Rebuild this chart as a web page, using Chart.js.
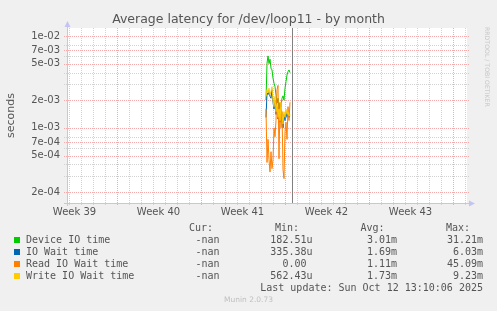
<!DOCTYPE html>
<html><head><meta charset="utf-8">
<script src="https://cdn.jsdelivr.net/npm/chart.js@4/dist/chart.umd.min.js"></script>
<style>
html,body{margin:0;padding:0;background:#f0f0f0;}
#wrap{position:relative;width:497px;height:311px;overflow:hidden;background:#f0f0f0;}
canvas{position:absolute;left:0;top:0;}
.t{position:absolute;font-family:"DejaVu Sans Mono",monospace;font-size:10px;line-height:12px;color:#555;white-space:pre;}
.sq{position:absolute;width:6px;height:6px;}
.r{text-align:right;}
#munin{position:absolute;left:0;width:497px;top:295px;text-align:center;font-family:"DejaVu Sans",sans-serif;font-size:7.5px;line-height:10px;color:#c0c0c0;}
#rrd{position:absolute;left:488px;top:27px;transform-origin:0 0;transform:rotate(90deg) translate(0,-3px);font-family:"DejaVu Sans",sans-serif;font-size:6.2px;line-height:7px;color:#c8c8c8;white-space:nowrap;}
</style></head><body>
<div id="wrap"><canvas id="c" width="497" height="311"></canvas>
<div id="rrd">RRDTOOL / TOBI OETIKER</div>
<div id="munin">Munin 2.0.73</div>
</div>
<script>
// ---- data (x axis in hours from the left edge of the month view) ----
const weekLabels = ['Week 39','Week 40','Week 41','Week 42','Week 43'];
const weekLabelHours = [15, 183, 351, 519, 687];
const X_MAX_HOURS = 800;
const SERIES_START_HOUR = 398;
const SERIES_STEP_HOURS = 2;
const NOW_HOUR = 449.4;

const yMajorTicks = [2e-4, 5e-4, 7e-4, 1e-3, 2e-3, 5e-3, 7e-3, 1e-2];
const yTickLabels = ['2e-04','5e-04','7e-04','1e-03','2e-03','5e-03','7e-03','1e-02'];
const yMinorTicks = [3e-4, 4e-4, 6e-4, 8e-4, 3e-3, 4e-3, 6e-3, 8e-3];
const Y_MIN = 1.52e-4, Y_MAX = 1.222e-2;

const seriesNames = ['Device IO time','IO Wait time','Read IO Wait time','Write IO Wait time'];
const seriesColors = ['#00cc00','#0066b3','#ff8000','#ffcc00'];
const deviceIO = [2.0e-3,5.05e-3,6.07e-3,5.0e-3,5.58e-3,4.46e-3,4.27e-3,3.47e-3,3.06e-3,2.81e-3,2.28e-3,1.86e-3,2.1e-3,1.57e-3,1.86e-3,1.68e-3,2.1e-3,2.23e-3,2.0e-3,2.7e-3,3.19e-3,3.77e-3,4.09e-3,4.27e-3,3.99e-3];
const ioWait = [1.3e-3,2.4e-3,2.3e-3,2.5e-3,2.2e-3,2.1e-3,2.6e-3,1.9e-3,1.6e-3,2.0e-3,1.4e-3,1.7e-3,1.25e-3,1.5e-3,1.15e-3,1.8e-3,1.3e-3,1.0e-3,1.4e-3,1.2e-3,1.5e-3,1.3e-3,1.45e-3,1.3e-3,1.35e-3];
const readIOWait = [1.6e-3,4.2e-4,7.5e-4,4.5e-4,3.3e-4,5.5e-4,3.6e-4,4.5e-4,1.0e-3,8.0e-4,1.2e-3,2.6e-3,2.9e-3,4.6e-4,1.9e-3,1.0e-3,1.5e-3,3.5e-4,2.8e-4,9.0e-4,1.15e-3,7.5e-4,1.7e-3,1.2e-3,1.9e-3];
const writeIOWait = [2.2e-3,2.6e-3,2.4e-3,2.7e-3,2.3e-3,2.5e-3,2.8e-3,2.0e-3,1.7e-3,2.2e-3,1.5e-3,1.8e-3,1.3e-3,1.6e-3,1.2e-3,1.9e-3,1.4e-3,1.1e-3,1.5e-3,1.3e-3,1.6e-3,1.4e-3,1.5e-3,1.35e-3,1.4e-3];

const curVals = ['-nan','-nan','-nan','-nan'];
const minVals = ['182.51u','335.38u','0.00 ','562.43u'];
const avgVals = ['3.01m','1.69m','1.11m','1.73m'];
const maxVals = ['31.21m','6.03m','45.09m','9.23m'];
const lastUpdate = 'Last update: Sun Oct 12 13:10:06 2025';

// ---- build ----
const allSeries = [deviceIO, ioWait, readIOWait, writeIOWait];
function toPoints(arr){ return arr.map((v,i)=>({x: SERIES_START_HOUR + i*SERIES_STEP_HOURS, y: v})); }

const MINOR_COL = '#d2d2d2', MAJOR_COL = '#f3abab';
const gridPlugin = {
  id: 'rrdgrid',
  beforeDraw(chart){
    const {ctx, chartArea: a, scales:{x, y}} = chart;
    ctx.save();
    ctx.fillStyle = '#f0f0f0'; ctx.fillRect(0,0,chart.width,chart.height);
    ctx.fillStyle = '#ffffff'; ctx.fillRect(a.left, a.top, a.right-a.left, a.bottom-a.top);
    ctx.lineWidth = 1;
    ctx.setLineDash([1,1]);
    for (let h = 3; h < X_MAX_HOURS; h += 24) {
      const px = Math.round(x.getPixelForValue(h)) + 0.5;
      const major = ((h - 99) % 168) === 0;
      ctx.strokeStyle = major ? MAJOR_COL : MINOR_COL;
      ctx.beginPath(); ctx.moveTo(px, a.top); ctx.lineTo(px, a.bottom + 3); ctx.stroke();
    }
    const hline = (v, col) => {
      const py = Math.round(y.getPixelForValue(v)) + 0.5;
      ctx.strokeStyle = col;
      ctx.beginPath(); ctx.moveTo(a.left - 3, py); ctx.lineTo(a.right + 2, py); ctx.stroke();
    };
    yMinorTicks.forEach(v => hline(v, MINOR_COL));
    yMajorTicks.forEach(v => hline(v, MAJOR_COL));
    ctx.setLineDash([]);
    ctx.strokeStyle = '#c4c4f4'; ctx.fillStyle = '#c4c4f4';
    const ax = Math.round(a.left) + 0.5, ay = Math.round(a.bottom) + 0.5;
    ctx.beginPath(); ctx.moveTo(ax, a.bottom + 3); ctx.lineTo(ax, a.top - 3); ctx.stroke();
    ctx.beginPath(); ctx.moveTo(ax - 3, a.top - 1); ctx.lineTo(ax + 3, a.top - 1); ctx.lineTo(ax, a.top - 7); ctx.closePath(); ctx.fill();
    ctx.beginPath(); ctx.moveTo(a.left - 3, ay); ctx.lineTo(a.right + 3, ay); ctx.stroke();
    ctx.beginPath(); ctx.moveTo(a.right + 2, ay - 3); ctx.lineTo(a.right + 2, ay + 3); ctx.lineTo(a.right + 8, ay); ctx.closePath(); ctx.fill();
    ctx.restore();
  },
  afterDatasetsDraw(chart){
    const {ctx, chartArea: a, scales:{x}} = chart;
    const px = Math.round(x.getPixelForValue(NOW_HOUR)) + 0.5;
    ctx.save();
    ctx.strokeStyle = '#808080'; ctx.lineWidth = 1;
    ctx.beginPath(); ctx.moveTo(px, a.top); ctx.lineTo(px, a.bottom); ctx.stroke();
    ctx.restore();
  }
};

new Chart(document.getElementById('c'), {
  type: 'line',
  data: {
    datasets: allSeries.map((arr, i) => ({
      label: seriesNames[i],
      data: toPoints(arr),
      borderColor: seriesColors[i],
      backgroundColor: seriesColors[i],
      borderWidth: 1,
      pointRadius: 0,
      tension: 0,
      fill: false,
      order: 4 - i
    }))
  },
  options: {
    responsive: false,
    animation: false,
    devicePixelRatio: 1,
    layout: { padding: { left: 0, right: 0, top: 0, bottom: 88 } },
    plugins: {
      legend: { display: false },
      tooltip: { enabled: false },
      title: {
        display: true,
        text: 'Average latency for /dev/loop11 - by month',
        color: '#555',
        font: { family: 'DejaVu Sans', size: 12.5, weight: 'normal', lineHeight: 1.2 },
        padding: { top: 12, bottom: 1 }
      }
    },
    scales: {
      x: {
        type: 'linear',
        bounds: 'data',
        min: 0, max: X_MAX_HOURS,
        grid: { display: false, drawTicks: false },
        border: { display: false },
        afterFit(s){ s.height = 20; },
        afterBuildTicks(s){ s.ticks = weekLabelHours.map(v => ({value: v})); },
        ticks: {
          autoSkip: false, maxRotation: 0, padding: 3, color: '#555',
          font: { family: 'DejaVu Sans', size: 10 },
          callback(v){ const i = weekLabelHours.indexOf(v); return i >= 0 ? weekLabels[i] : ''; }
        }
      },
      y: {
        type: 'logarithmic',
        position: 'left',
        bounds: 'data',
        min: Y_MIN, max: Y_MAX,
        grid: { display: false, drawTicks: false },
        border: { display: false },
        afterFit(s){ s.width = 67; },
        afterBuildTicks(s){ s.ticks = yMajorTicks.map(v => ({value: v})); },
        title: {
          display: true, text: 'seconds', color: '#555',
          font: { family: 'DejaVu Sans', size: 11 },
          padding: { top: 4.5, bottom: 0 }
        },
        ticks: {
          autoSkip: false, padding: 7, color: '#555',
          font: { family: 'DejaVu Sans', size: 10 },
          callback(v){ const i = yMajorTicks.indexOf(v); return i >= 0 ? yTickLabels[i] : ''; }
        }
      },
      yRightMargin: {
        type: 'linear',
        position: 'right',
        display: true,
        min: 0, max: 1,
        grid: { display: false, drawTicks: false },
        border: { display: false },
        ticks: { display: false },
        afterFit(s){ s.width = 30; }
      }
    }
  },
  plugins: [gridPlugin]
});

// ---- legend table (HTML text) ----
const wrap = document.getElementById('wrap');
function addText(txt, top, opts){
  const d = document.createElement('div');
  d.className = 't' + (opts.right !== undefined ? ' r' : '');
  d.textContent = txt;
  d.style.top = top + 'px';
  if (opts.left !== undefined) d.style.left = opts.left + 'px';
  if (opts.right !== undefined) d.style.right = (497 - opts.right) + 'px';
  wrap.appendChild(d);
}
const headTop = 222, rowTop = 234, rowStep = 12;
addText('Cur:', headTop, {right: 213});
addText('Min:', headTop, {right: 299});
addText('Avg:', headTop, {right: 384.5});
addText('Max:', headTop, {right: 470});
seriesNames.forEach((n, i) => {
  const top = rowTop + i*rowStep;
  const sq = document.createElement('div');
  sq.className = 'sq'; sq.style.left = '14px'; sq.style.top = (top + 3) + 'px';
  sq.style.background = seriesColors[i];
  wrap.appendChild(sq);
  addText(n, top, {left: 26});
  addText(curVals[i], top, {right: 219.5});
  addText(minVals[i], top, {right: 312.5});
  addText(avgVals[i], top, {right: 397});
  addText(maxVals[i], top, {right: 483});
});
addText(lastUpdate, rowTop + 4*rowStep, {right: 483});
</script>
</body></html>
